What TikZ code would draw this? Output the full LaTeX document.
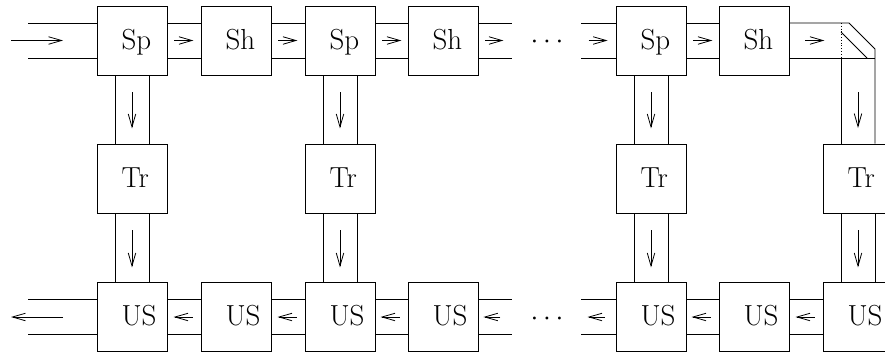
\RequirePackage{fix-cm}
\documentclass[tikz,border=0pt]{standalone}
\usepackage{fontspec}
\usetikzlibrary{calc,arrows.meta}
\begin{document}
\begin{tikzpicture}[x=1pt,y=-1pt,line width=0.8pt,
  box/.style={draw,minimum width=70pt,minimum height=69pt,inner sep=0pt},
  lbl/.style={anchor=base west,inner sep=0pt,font=\fontsize{29}{32}\selectfont},
  arr/.style={-{Straight Barb[length=13pt,width=7.5pt]}},
  dts/.style={anchor=base,inner sep=0pt,font=\fontsize{28}{32}\selectfont}]
\useasboundingbox (0,0) rectangle (885,356);
\clip (0,0) rectangle (885,356);
% top row
\node[box] (sp1) at (132,40.5) {};
\node[box] (sh1) at (236,40.5) {};
\node[box] (sp2) at (340,40.5) {};
\node[box] (sh2) at (443,40.5) {};
\node[box] (sp3) at (651,40.5) {};
\node[box] (sh3) at (754,40.5) {};
% middle row
\node[box] (tr1) at (132,178.5) {};
\node[box] (tr2) at (340,178.5) {};
\node[box] (tr3) at (651,178.5) {};
\node[box] (tr4) at (858,178.5) {};
% bottom row
\node[box] (us1) at (132,317) {};
\node[box] (us2) at (236,317) {};
\node[box] (us3) at (340,317) {};
\node[box] (us4) at (443,317) {};
\node[box] (us5) at (651,317) {};
\node[box] (us6) at (754,317) {};
\node[box] (us7) at (858,317) {};
% labels
\foreach \n/\t in {sp1/Sp,sh1/Sh,sp2/Sp,sh2/Sh,sp3/Sp,sh3/Sh,tr1/Tr,tr2/Tr,tr3/Tr,tr4/Tr,us1/US,us2/US,us3/US,us4/US,us5/US,us6/US,us7/US}
  \node[lbl] at ($(\n.west)+(24.5,8.7)$) {\t};
% horizontal channels, top
\foreach \a/\b in {sp1/sh1,sh1/sp2,sp2/sh2,sp3/sh3}{
  \draw ($(\a.east)+(0,-17.5)$) -- ($(\b.west)+(0,-17.5)$);
  \draw ($(\a.east)+(0,17.5)$) -- ($(\b.west)+(0,17.5)$);
  \draw[arr] ($(\a.east)+(7,0)$) -- ($(\a.east)+(26,0)$);
}
% horizontal channels, bottom
\foreach \a/\b in {us1/us2,us2/us3,us3/us4,us5/us6,us6/us7}{
  \draw ($(\a.east)+(0,-17.5)$) -- ($(\b.west)+(0,-17.5)$);
  \draw ($(\a.east)+(0,17.5)$) -- ($(\b.west)+(0,17.5)$);
  \draw[arr] ($(\b.west)+(-8,0)$) -- ($(\b.west)+(-27,0)$);
}
% input and output stubs
\coordinate (inA) at (28,23); \coordinate (inB) at (28,58); \coordinate (inP) at (11,40.5);
\draw (inA) -- (inA -| sp1.west);
\draw (inB) -- (inB -| sp1.west);
\draw[arr] (inP) -- ++(52,0);
\coordinate (outA) at (28,299.5); \coordinate (outB) at (28,334.5); \coordinate (outP) at (63,317);
\draw (outA) -- (outA -| us1.west);
\draw (outB) -- (outB -| us1.west);
\draw[arr] (outP) -- ++(-52,0);
% channels around the dots
\coordinate (gtA) at (512,23); \coordinate (gtB) at (512,58);
\coordinate (htA) at (581,23); \coordinate (htB) at (581,58);
\draw (sh2.east |- gtA) -- (gtA); \draw (sh2.east |- gtB) -- (gtB);
\draw (htA) -- (htA -| sp3.west); \draw (htB) -- (htB -| sp3.west);
\draw[arr] ($(sh2.east)+(7,0)$) -- ++(18,0);
\draw[arr] ($(sp3.west)+(-27,0)$) -- ++(19,0);
\coordinate (gbA) at (512,299.5); \coordinate (gbB) at (512,334.5);
\coordinate (hbA) at (581,299.5); \coordinate (hbB) at (581,334.5);
\draw (us4.east |- gbA) -- (gbA); \draw (us4.east |- gbB) -- (gbB);
\draw (hbA) -- (hbA -| us5.west); \draw (hbB) -- (hbB -| us5.west);
\draw[arr] ($(us4.east)+(22,0)$) -- ++(-17,0);
\draw[arr] ($(us5.west)+(-11,0)$) -- ++(-17,0);
\node[dts] (dotsT) at (547,48.7) {$\cdots$};
\node[dts] (dotsB) at (547,325) {$\cdots$};
% vertical channels
\foreach \a/\b/\c in {sp1/tr1/us1,sp2/tr2/us3,sp3/tr3/us5}{
  \draw ($(\a.south)+(-17,0)$) -- ($(\b.north)+(-17,0)$);
  \draw ($(\a.south)+(17,0)$) -- ($(\b.north)+(17,0)$);
  \draw ($(\b.south)+(-17,0)$) -- ($(\c.north)+(-17,0)$);
  \draw ($(\b.south)+(17,0)$) -- ($(\c.north)+(17,0)$);
  \draw[arr] ($(\a.south)+(0,17)$) -- ++(0,36);
  \draw[arr] ($(\b.south)+(0,17)$) -- ++(0,37);
}
% corner (bend) after sh3
\coordinate (cTop) at (849,23);
\coordinate (cOut) at (875,49);
\coordinate (cIn) at (841,32);
\coordinate (cInB) at (867,58);
\coordinate (cDot) at (841,23);
\draw (sh3.east |- cTop) -- (cTop) -- (cOut) -- (cOut |- tr4.north);
\draw (sh3.east |- cInB) -- (cOut |- cInB);
\draw (cIn) -- (cInB);
\draw[dotted] (cDot) -- (841,58);
\draw (841,58) -- (841,58 |- tr4.north);
\draw[arr] ($(sh3.east)+(16,0)$) -- ++(19,0);
\draw ($(tr4.south)+(-17,0)$) -- ($(us7.north)+(-17,0)$);
\draw ($(tr4.south)+(17,0)$) -- ($(us7.north)+(17,0)$);
\draw[arr] (858,92) -- (858,128);
\draw[arr] ($(tr4.south)+(0,17)$) -- ++(0,37);
\end{tikzpicture}
\end{document}
